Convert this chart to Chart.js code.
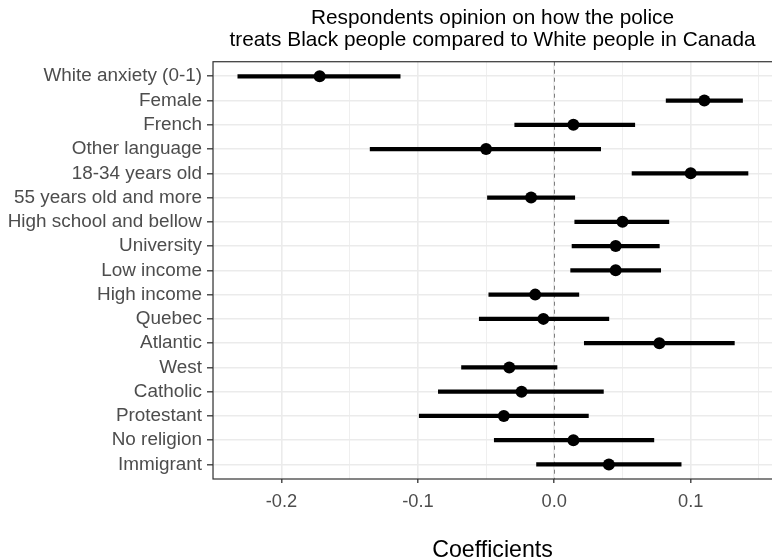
<!DOCTYPE html>
<html>
<head>
<meta charset="utf-8">
<script src="https://cdn.jsdelivr.net/npm/chart.js@4"></script>
<style>
  html, body { margin: 0; padding: 0; background: #ffffff; }
  #c { display: block; }
</style>
</head>
<body>
<canvas id="c" width="772" height="557"></canvas>
<script>
const categories = ['White anxiety (0-1)', 'Female', 'French', 'Other language', '18-34 years old',
  '55 years old and more', 'High school and bellow', 'University', 'Low income', 'High income',
  'Quebec', 'Atlantic', 'West', 'Catholic', 'Protestant', 'No religion', 'Immigrant'];
const estimates = [-0.172, 0.110, 0.014, -0.050, 0.100, -0.017, 0.050, 0.045, 0.045, -0.014,
  -0.008, 0.077, -0.033, -0.024, -0.037, 0.014, 0.040];
const lower = [-0.232, 0.082, -0.029, -0.135, 0.057, -0.049, 0.015, 0.013, 0.012, -0.048,
  -0.055, 0.022, -0.068, -0.085, -0.099, -0.044, -0.013];
const upper = [-0.113, 0.138, 0.059, 0.034, 0.142, 0.015, 0.084, 0.077, 0.078, 0.018,
  0.040, 0.132, 0.002, 0.036, 0.025, 0.073, 0.093];
const xTickValues = [-0.25, -0.2, -0.15, -0.1, -0.05, 0, 0.05, 0.1, 0.15];
const xMajorLabels = { '-0.2': '-0.2', '-0.1': '-0.1', '0': '0.0', '0.1': '0.1' };
const titleLines = ['Respondents opinion on how the police', 'treats Black people compared to White people in Canada'];
const xTitle = 'Coefficients';

const FONT = '"Liberation Sans", Arial, Helvetica, sans-serif';
const key = v => String(Math.round(v * 100) / 100);
const isMajor = v => Object.prototype.hasOwnProperty.call(xMajorLabels, key(v));

const panelPlugin = {
  id: 'panel',
  beforeDatasetsDraw(chart) {
    const { ctx, chartArea, scales } = chart;
    const x0 = scales.x.getPixelForValue(0);
    ctx.save();
    ctx.strokeStyle = '#7f7f7f';
    ctx.lineWidth = 1;
    ctx.setLineDash([4, 4]);
    ctx.beginPath();
    ctx.moveTo(Math.round(x0) + 0.5, chartArea.top);
    ctx.lineTo(Math.round(x0) + 0.5, chartArea.bottom);
    ctx.stroke();
    ctx.restore();
  },
  afterDatasetsDraw(chart) {
    const { ctx, chartArea } = chart;
    ctx.save();
    ctx.strokeStyle = '#333333';
    ctx.lineWidth = 1.2;
    ctx.strokeRect(chartArea.left, chartArea.top, chartArea.right - chartArea.left + 2, chartArea.bottom - chartArea.top);
    ctx.restore();
  }
};

new Chart(document.getElementById('c'), {
  type: 'bar',
  data: {
    datasets: [
      {
        type: 'scatter',
        data: categories.map((c, i) => ({ x: estimates[i], y: i })),
        backgroundColor: '#000000',
        borderColor: '#000000',
        pointRadius: 6,
        pointHoverRadius: 6,
        borderWidth: 0,
        order: 0
      },
      {
        type: 'bar',
        data: categories.map((c, i) => ({ x: [lower[i], upper[i]], y: i })),
        backgroundColor: '#000000',
        borderWidth: 0,
        barThickness: 3.6,
        order: 1
      }
    ]
  },
  plugins: [panelPlugin],
  options: {
    indexAxis: 'y',
    responsive: false,
    devicePixelRatio: 1,
    animation: false,
    layout: { autoPadding: false, padding: { left: 0, right: 0, top: 0, bottom: 0 } },
    plugins: {
      legend: { display: false },
      tooltip: { enabled: false },
      title: {
        display: true,
        text: titleLines,
        fullSize: false,
        color: '#000000',
        font: { family: FONT, size: 20.8, lineHeight: 1.087, weight: 'normal' },
        padding: { top: 6.5, bottom: 10 }
      }
    },
    scales: {
      x: {
        type: 'linear',
        position: 'bottom',
        offset: false,
        min: -0.2502,
        max: 0.1596,
        afterFit(scale) { scale.height = 78; },
        afterBuildTicks(scale) { scale.ticks = xTickValues.map(v => ({ value: v })); },
        border: { display: false },
        grid: {
          offset: false,
          color: '#EBEBEB',
          lineWidth: ctx => (ctx.tick && isMajor(ctx.tick.value)) ? 1.6 : 0.8,
          tickColor: ctx => (ctx.tick && isMajor(ctx.tick.value)) ? '#333333' : 'rgba(0,0,0,0)',
          tickWidth: 1.3,
          tickLength: 4,
          drawTicks: true
        },
        ticks: {
          autoSkip: false,
          maxRotation: 0,
          padding: 8,
          color: '#4D4D4D',
          font: { family: FONT, size: 18.3 },
          callback: v => isMajor(v) ? xMajorLabels[key(v)] : ''
        },
        title: {
          display: true,
          text: xTitle,
          color: '#000000',
          font: { family: FONT, size: 23.2, lineHeight: 0.57 },
          padding: { top: 0, bottom: 0 }
        }
      },
      y: {
        type: 'linear',
        position: 'left',
        reverse: true,
        offset: false,
        min: -0.6,
        max: 16.6,
        afterFit(scale) { scale.width = 213; },
        afterBuildTicks(scale) { scale.ticks = categories.map((c, i) => ({ value: i })); },
        border: { display: false },
        grid: {
          offset: false,
          color: '#EBEBEB',
          lineWidth: 1.6,
          tickColor: '#333333',
          tickWidth: 1.3,
          tickLength: 6
        },
        ticks: {
          autoSkip: false,
          padding: 5,
          color: '#4D4D4D',
          font: { family: FONT, size: 18.9 },
          callback: v => categories[v]
        }
      }
    }
  }
});
</script>
</body>
</html>
